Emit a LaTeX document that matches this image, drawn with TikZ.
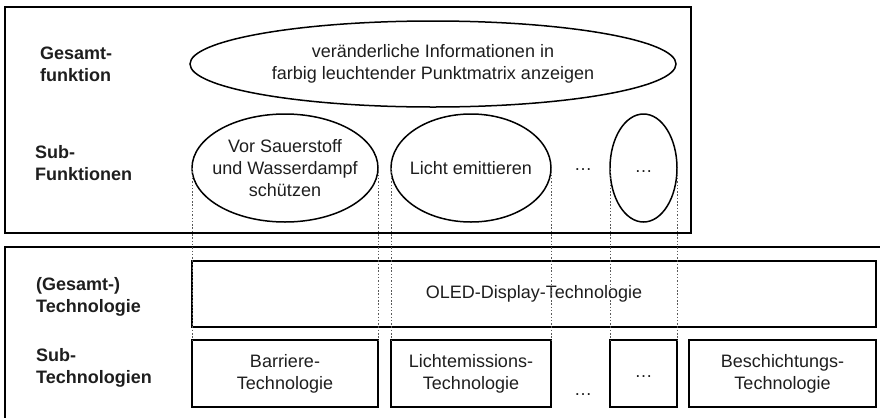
\documentclass[tikz,border=0pt]{standalone}
\usepackage{fontspec}
\setmainfont{Liberation Sans}
\usetikzlibrary{shapes.geometric}
\definecolor{ink}{HTML}{1E1E1E}
\tikzset{
  txt/.style={font=\fontsize{18}{22}\selectfont, text=ink, align=center},
  lbl/.style={font=\fontsize{18}{22}\selectfont\bfseries, text=ink, align=left, anchor=west, inner sep=0pt},
  % negative horizontal inner sep keeps the ellipse at its minimum size
  func/.style={txt, ellipse, draw=black, line width=1.5pt, inner xsep=-25pt, inner ysep=0pt, outer sep=0pt},
  techbox/.style={txt, rectangle, draw=black, line width=1.6pt, inner sep=0pt, outer sep=0pt},
  frame/.style={draw=black, line width=2pt},
  guide/.style={draw=black!65, line width=1pt, dash pattern=on 1.5pt off 1.8pt},
  dotsnode/.style={txt, inner sep=0pt}
}
\begin{document}
\begin{tikzpicture}[x=1pt,y=-1pt]
\useasboundingbox (0,0) rectangle (880,418);

% function level frame
\draw[frame] (5,7) rectangle (691,233);
% technology level frame (open to the right and bottom)
\draw[frame] (880,247) -- (5,247) -- (5,418);

% row labels
\node[lbl] (lgf) at (40,64) {Gesamt-\\funktion};
\node[lbl] (lsf) at (35,163) {Sub-\\Funktionen};
\node[lbl] (lgt) at (36,297) {(Gesamt-)\\Technologie};
\node[lbl] (lst) at (36,368) {Sub-\\Technologien};

% overall function
\node[func, minimum width=486, minimum height=86] (gf) at (433,64)
  {veränderliche Informationen in\\farbig leuchtender Punktmatrix anzeigen};

% sub-functions
\node[func, minimum width=186, minimum height=108] (sf1) at (285,168)
  {Vor Sauerstoff\\und Wasserdampf\\schützen};
\node[func, minimum width=160, minimum height=108] (sf2) at (471,168)
  {Licht emittieren};
\node[dotsnode] (sfdots) at (583,166) {…\vphantom{Ag}};
\node[func, minimum width=67, minimum height=108] (sf3) at (643.5,168)
  {…\vphantom{Ag}};

% overall technology
\node[techbox, minimum width=684, minimum height=66] (gt) at (534,294)
  {OLED-Display-Technologie};

% sub-technologies
\node[techbox, minimum width=186, minimum height=67] (st1) at (285,373.5)
  {Barriere-\\Technologie};
\node[techbox, minimum width=160, minimum height=67] (st2) at (471,373.5)
  {Lichtemissions-\\Technologie};
\node[dotsnode] (stdots) at (583,391) {…\vphantom{Ag}};
\node[techbox, minimum width=67, minimum height=67] (st3) at (643.5,373.5)
  {…\vphantom{Ag}};
\node[techbox, minimum width=187, minimum height=67] (st4) at (782.5,373.5)
  {Beschichtungs-\\Technologie};

% dotted guides from sub-functions down to their sub-technologies
\draw[guide] (sf1.west) -- (st1.north west);
\draw[guide] (sf1.east) -- (st1.north east);
\draw[guide] (sf2.west) -- (st2.north west);
\draw[guide] (sf2.east) -- (st2.north east);
\draw[guide] (sf3.west) -- (st3.north west);
\draw[guide] (sf3.east) -- (st3.north east);
\end{tikzpicture}
\end{document}
